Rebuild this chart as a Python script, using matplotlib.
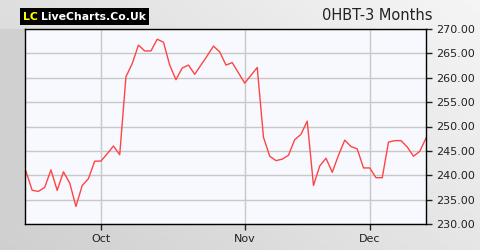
import matplotlib
matplotlib.use("Agg")
import matplotlib.pyplot as plt
import numpy as np

# 0HBT closing prices, 3 months of trading days
prices = [240.8, 236.9, 236.7, 237.5, 241.1, 236.9, 240.7, 238.4, 233.6, 237.9,
          239.3, 242.9, 242.9, 244.4, 246.0, 244.2, 260.2, 262.9, 266.7, 265.5,
          265.5, 267.9, 267.3, 262.6, 259.6, 262.0, 262.6, 260.7, 262.6, 264.5,
          266.5, 265.3, 262.6, 263.1, 261.0, 258.9, 260.5, 262.1, 247.8, 243.9,
          243.0, 243.3, 244.1, 247.3, 248.4, 251.1, 237.9, 241.9, 243.5, 240.6,
          244.1, 247.2, 245.9, 245.4, 241.5, 241.5, 239.5, 239.5, 246.8, 247.1,
          247.1, 245.8, 243.9, 244.9, 247.6]
month_pos = [12, 35, 55]
month_labels = ["Oct", "Nov", "Dec"]
y_ticks = [230, 235, 240, 245, 250, 255, 260, 265, 270]

W, H = 480, 250
fig = plt.figure(figsize=(W / 100, H / 100), dpi=100)

# grey gradient backdrop
bg = fig.add_axes([0, 0, 1, 1], zorder=-10)
gx, gy = np.meshgrid(np.linspace(0, 1, 200), np.linspace(0, 1, 100))
shade = 0.81 + 0.09 * gx + 0.06 * gy
bg.imshow(shade, cmap="gray", vmin=0, vmax=1, extent=[0, 1, 0, 1],
          aspect="auto", origin="lower")
bg.add_patch(plt.Rectangle((0, 0.104), 25 / W, 0.78, color="#d0d0d0", lw=0))
bg.set_xlim(0, 1)
bg.set_ylim(0, 1)
bg.axis("off")

ax = fig.add_axes([25 / W, 26 / H, 401 / W, 195 / H])
ax.set_facecolor("#f8f9fe")
x = np.arange(len(prices))
ax.plot(x, prices, color="#ff4444", lw=1)
ax.set_xlim(-0.15, len(prices) - 1)
ax.set_ylim(230, 270)
ax.set_yticks(y_ticks)
ax.set_yticklabels(["%.2f" % v for v in y_ticks])
ax.set_xticks(month_pos)
ax.set_xticklabels(month_labels)
ax.yaxis.tick_right()
ax.grid(color="#c8c8c8", lw=1)
ax.tick_params(labelsize=8, colors="#222222", length=4, width=1)
for s in ax.spines.values():
    s.set_color("black")
    s.set_linewidth(1)

# logo and title
fig.text(23 / W, 1 - 16.5 / H, "LC", color="#ffff00", fontsize=7.8,
         fontweight="bold", va="center", ha="left",
         bbox=dict(boxstyle="square,pad=0.3", fc="black", ec="none"))
fig.text(41 / W, 1 - 16.5 / H, "LiveCharts.Co.Uk", color="white", fontsize=7.8,
         fontweight="bold", va="center", ha="left",
         bbox=dict(boxstyle="square,pad=0.3", fc="black", ec="none"))
fig.text(433 / W, 1 - 16 / H, "0HBT-3 Months", color="#222222", fontsize=10.5,
         va="center", ha="right")

fig.savefig("out.png", dpi=100)
